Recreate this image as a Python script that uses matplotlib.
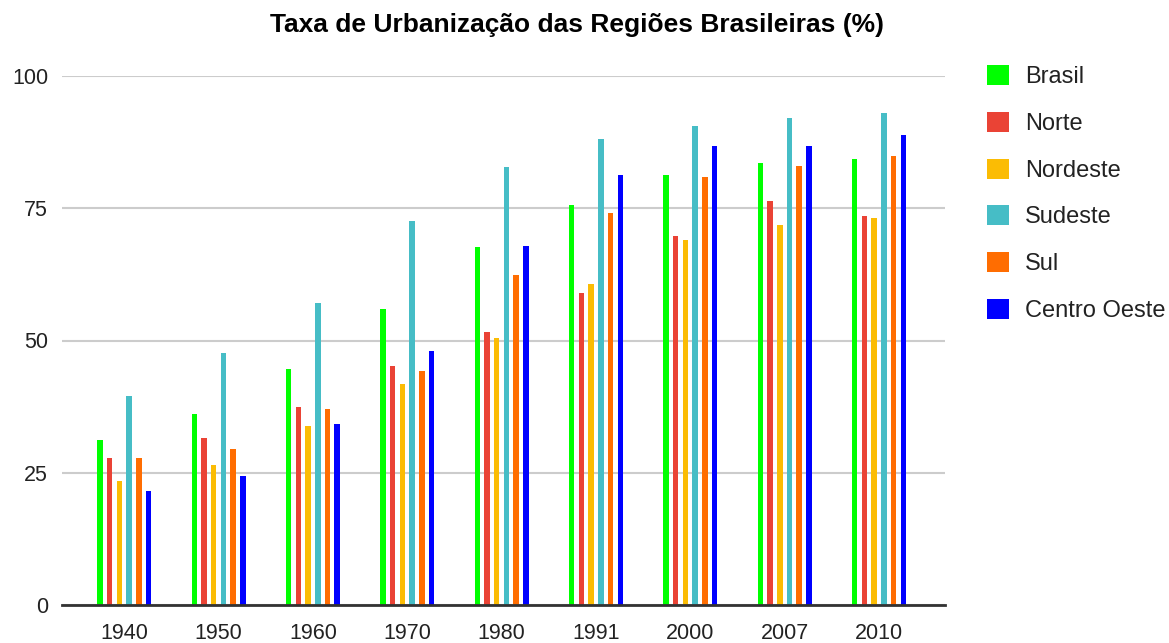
import matplotlib
matplotlib.use("Agg")
import matplotlib.pyplot as plt
import numpy as np

years = ["1940", "1950", "1960", "1970", "1980", "1991", "2000", "2007", "2010"]
series_names = ["Brasil", "Norte", "Nordeste", "Sudeste", "Sul", "Centro Oeste"]
brasil = [31.24, 36.16, 44.67, 55.92, 67.59, 75.59, 81.23, 83.48, 84.36]
norte = [27.75, 31.49, 37.38, 45.13, 51.65, 59.05, 69.83, 76.43, 73.53]
nordeste = [23.42, 26.40, 33.89, 41.81, 50.46, 60.65, 69.04, 71.76, 73.13]
sudeste = [39.42, 47.55, 57.00, 72.68, 82.81, 88.02, 90.52, 92.03, 92.95]
sul = [27.73, 29.50, 37.10, 44.27, 62.41, 74.12, 80.94, 82.90, 84.93]
centro_oeste = [21.52, 24.38, 34.22, 48.04, 67.79, 81.28, 86.73, 86.81, 88.80]
colors = ["#00ff00", "#ea4335", "#fbbc04", "#46bdc6", "#ff6d01", "#0000ff"]
yticks = [0, 25, 50, 75, 100]

plt.rcParams['font.family'] = ['Liberation Sans', 'DejaVu Sans']

fig = plt.figure(figsize=(11.69, 6.43), dpi=100)
ax = fig.add_axes([62/1169, 38/643, (945-62)/1169, (605-76)/643])

data = [brasil, norte, nordeste, sudeste, sul, centro_oeste]
x = np.arange(len(years))
step = 0.103
width = 0.058
for k, (name, vals, c) in enumerate(zip(series_names, data, colors)):
    ax.bar(x + (k - 2.5) * step, vals, width=width, color=c, label=name, zorder=3)

ax.set_xlim(-0.66, 8.70)
ax.set_ylim(0, 100)
ax.set_yticks(yticks)
ax.set_yticklabels([str(t) for t in yticks])
ax.set_xticks(x)
ax.set_xticklabels(years)
ax.tick_params(axis='both', length=0, labelsize=15.5, labelcolor='#222222')
ax.tick_params(axis='y', pad=10)
ax.tick_params(axis='x', pad=13)
ax.grid(axis='y', color='#cccccc', linewidth=1.5, zorder=0)
for s in ['top', 'right', 'left']:
    ax.spines[s].set_visible(False)
ax.spines['bottom'].set_color('#333333')
ax.spines['bottom'].set_linewidth(2)
ax.spines['bottom'].set_zorder(4)

fig.text(577/1169, 1 - 25/643, "Taxa de Urbanização das Regiões Brasileiras (%)",
         ha='center', va='center', fontsize=19, fontweight='bold', color='#000000')

leg = fig.legend(loc='upper left', bbox_to_anchor=(987/1169, 1 - 65/643),
                 frameon=False, fontsize=17, handlelength=0.93, handleheight=0.93,
                 labelspacing=1.0, handletextpad=0.68, borderaxespad=0, borderpad=0)
for t in leg.get_texts():
    t.set_color('#222222')

fig.savefig("out.png", dpi=100)
